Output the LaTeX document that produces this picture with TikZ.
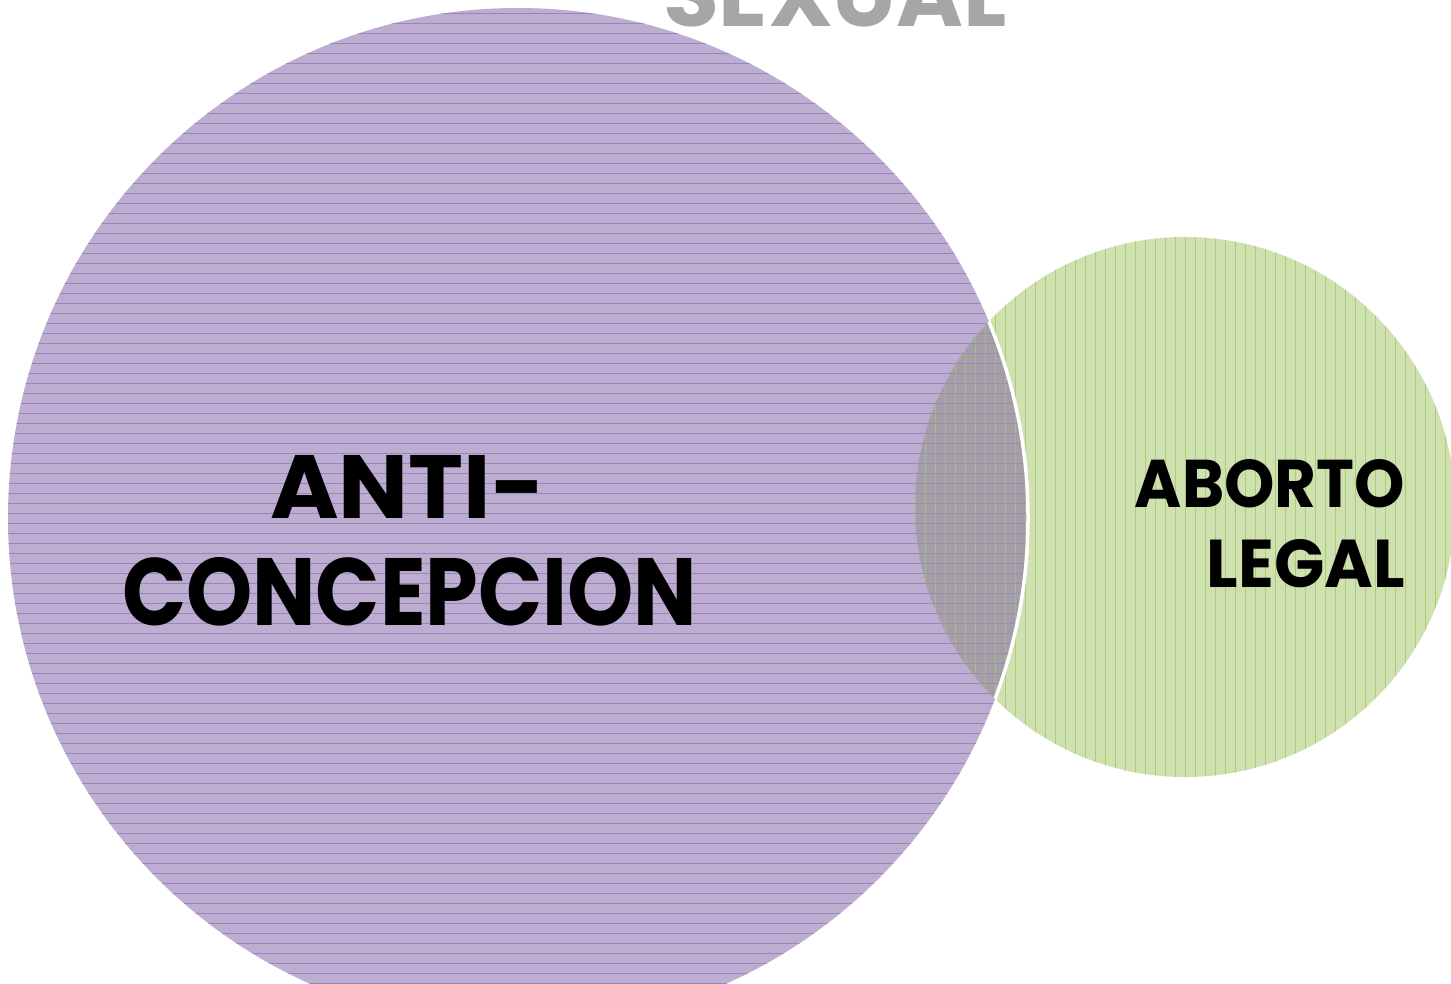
\documentclass[tikz,border=0pt]{standalone}
\usepackage{fontspec}
\setmainfont{Poppins}
\usepackage{graphicx}
\definecolor{pfill}{HTML}{BCADD1}
\definecolor{pline}{HTML}{9A86BF}
\definecolor{gfill}{HTML}{D0E1B0}
\definecolor{gline}{HTML}{AECB7C}
\definecolor{ovl}{HTML}{A49EA7}
\definecolor{sexgray}{HTML}{A6A6A6}
\tikzset{
  lbl/.style={inner sep=0pt, outer sep=0pt, font=\bfseries},
  hatchp/.style={pline, line width=0.7pt},
  hatchg/.style={gline, line width=0.7pt},
}
\newcommand{\purplecirc}{(518,518) circle [radius=510pt]}
\newcommand{\greencirc}{(1185,507) circle [radius=270pt]}
\begin{document}
\begin{tikzpicture}[x=1pt,y=-1pt]
\clip (0,0) rectangle (1451,984);
\fill[white] (0,0) rectangle (1451,984);
% green circle
\fill[gfill] \greencirc;
\begin{scope}
  \clip \greencirc;
  \foreach \x in {905,915,...,1465} \draw[hatchg] (\x,230) -- (\x,790);
\end{scope}
% purple circle
\fill[pfill] \purplecirc;
\begin{scope}
  \clip \purplecirc;
  \foreach \y in {13,23,...,1033} \draw[hatchp] (0,\y) -- (1040,\y);
\end{scope}
% overlap
\begin{scope}
  \clip \greencirc;
  \fill[ovl] \purplecirc;
  \clip \purplecirc;
  \foreach \x in {905,915,...,1045} \draw[gline!60!ovl, line width=0.7pt] (\x,230) -- (\x,790);
  \foreach \y in {13,23,...,1033} \draw[pline!80!ovl, line width=0.7pt] (900,\y) -- (1040,\y);
\end{scope}
% white outline of purple circle over green
\begin{scope}
  \clip \greencirc;
  \draw[white, line width=3.5pt] \purplecirc;
\end{scope}
% labels
\node[lbl, anchor=south west] (anti) at (270,518) {\resizebox{275pt}{63pt}{ANTI-}};
\node[lbl, anchor=south west] (conc) at (122,626) {\resizebox{575pt}{68pt}{CONCEPCION}};
\node[lbl, anchor=south east] (abo) at (1405,508) {\resizebox{270pt}{48pt}{ABORTO}};
\node[lbl, anchor=south east] (leg) at (1405,588) {\resizebox{198pt}{48pt}{LEGAL}};
\node[lbl, anchor=south west, text=sexgray] (sex) at (663,27) {\resizebox{344pt}{64pt}{SEXUAL}};
\end{tikzpicture}
\end{document}
